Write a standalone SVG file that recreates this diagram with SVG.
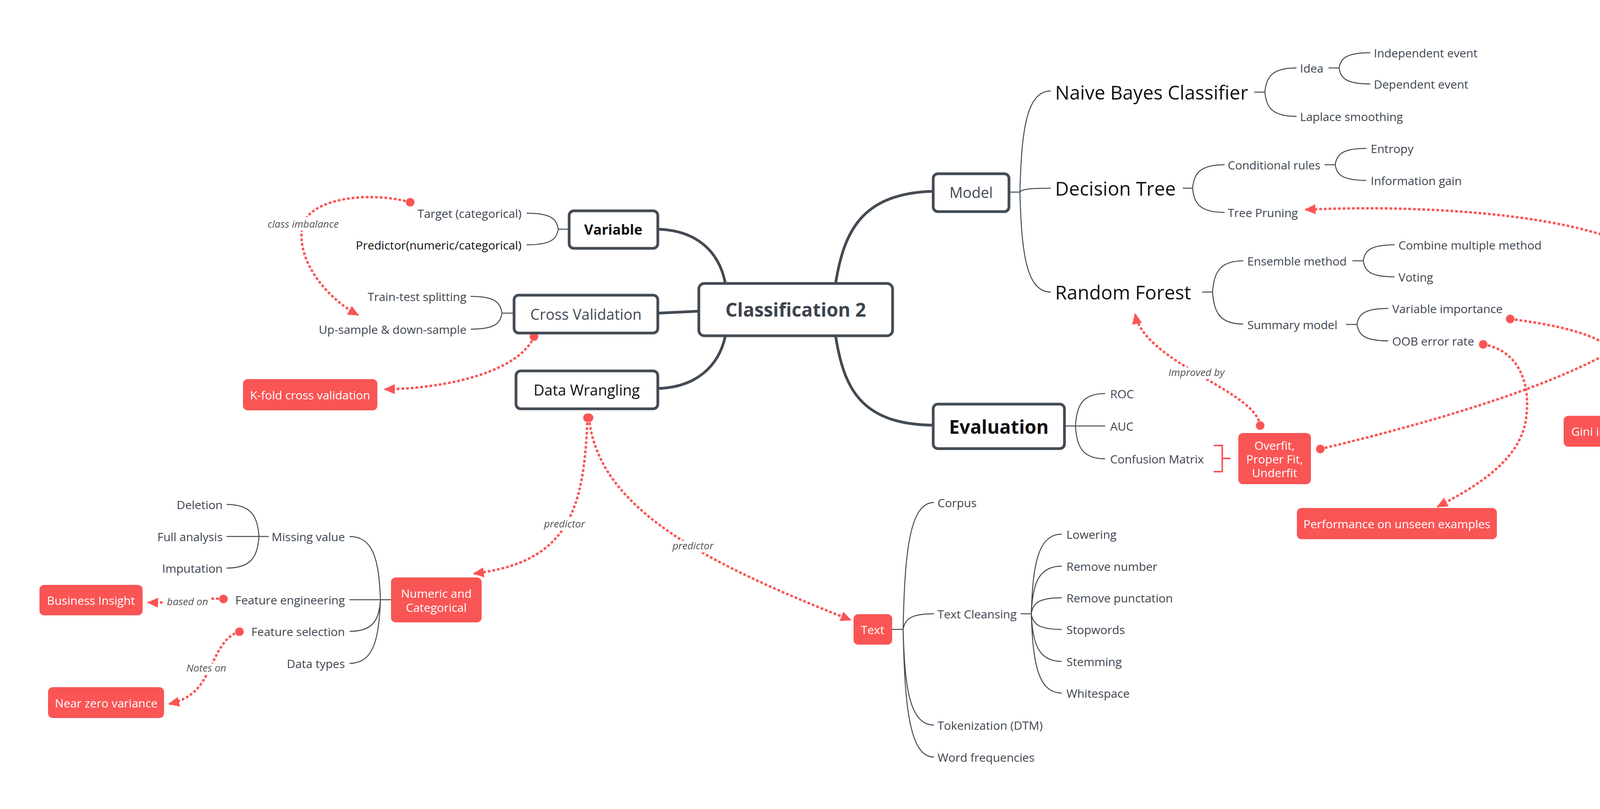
<svg xmlns="http://www.w3.org/2000/svg" width="4444" height="2072" viewBox="0 0 4444 2072">
<style>
.t{font-family:"Open Sans","Liberation Sans",sans-serif;dominant-baseline:central}
.leaf{font-size:30px;fill:#3E4550}
.big{font-size:49px;fill:#111}
.main{font-size:38px;font-weight:500;text-anchor:middle}
.rl{font-family:"Open Sans","Liberation Sans",sans-serif;dominant-baseline:central;font-size:26px;font-style:italic;fill:#555;paint-order:stroke;stroke:#fff;stroke-width:16px;text-anchor:middle}
.w{fill:#fff;font-size:30px;text-anchor:middle}
.box{fill:#fff;stroke:#434B54;stroke-width:7}
.red{fill:#F95555}
.thin{fill:none;stroke:#434B54;stroke-width:2.5}
.thick{fill:none;stroke:#434B54;stroke-width:7;stroke-linecap:round}
.rel{fill:none;stroke:#F95555;stroke-width:6;stroke-dasharray:7 5;marker-start:url(#dot);marker-end:url(#arr)}
.e{text-anchor:end}
</style>
<defs>
<marker id="dot" viewBox="0 0 24 24" refX="12" refY="12" markerWidth="24" markerHeight="24" markerUnits="userSpaceOnUse"><circle cx="12" cy="12" r="11" fill="#F95555"/></marker>
<marker id="arr" viewBox="0 0 24 24" refX="22" refY="12" markerWidth="28" markerHeight="28" markerUnits="userSpaceOnUse" orient="auto"><path d="M0,1 L24,12 L0,23 z" fill="#F95555"/></marker>
</defs>
<rect width="4444" height="2072" fill="#fff"/>

<g id="connectors">
<!-- main thick -->
<path class="thick" d="M1684,587 C1780,590 1840,640 1857,726"/>
<path class="thick" d="M1684,802 L1789,797"/>
<path class="thick" d="M1684,995 C1780,992 1840,940 1857,860"/>
<path class="thick" d="M2139,726 C2160,600 2200,495 2389,490"/>
<path class="thick" d="M2139,860 C2160,990 2200,1087 2389,1089"/>
<!-- thin tree lines -->
<path class="thin" d="M2584,492 H2611 M3211,236 H3238 M3401,174 H3428 M3028,482 H3053 M3391,422 H3418 M3078,748 H3104 M3462,668 H3490 M3446,831 H3474 M2726,1091 H2753 M2284,1612 H2312 M2613,1572 H2640 M1456,587 H1429 M1315,802 H1285 M1001,1536 H974 M688,1374 H663"/>
<path class="thin" d="M2611,492 C2615,337 2627,233 2690,233 M2611,492 C2615,486 2627,482 2690,482 M2611,492 C2615,646 2627,748 2690,748"/>
<path class="thin" d="M3238,236 C3242,199 3254,174 3319,174 M3238,236 C3242,273 3254,298 3319,298"/>
<path class="thin" d="M3428,174 C3432,151 3444,135 3508,135 M3428,174 C3432,199 3444,215 3508,215"/>
<path class="thin" d="M3053,482 C3057,446 3069,422 3135,422 M3053,482 C3057,519 3069,544 3135,544"/>
<path class="thin" d="M3418,422 C3422,397 3434,380 3498,380 M3418,422 C3422,446 3434,462 3498,462"/>
<path class="thin" d="M3104,748 C3108,700 3120,668 3183,668 M3104,748 C3108,797 3120,830 3183,830"/>
<path class="thin" d="M3490,668 C3494,643 3506,627 3570,627 M3490,668 C3494,693 3506,709 3570,709"/>
<path class="thin" d="M3474,831 C3478,806 3490,790 3554,790 M3474,831 C3478,856 3490,873 3554,873"/>
<path class="thin" d="M2753,1091 C2757,1041 2768,1008 2829,1008 M2753,1091 H2829 M2753,1091 C2757,1141 2768,1175 2829,1175"/>
<path class="thin" d="M2312,1612 C2316,1417 2328,1287 2391,1287 M2312,1612 C2316,1588 2328,1572 2391,1572 M2312,1612 C2316,1759 2328,1857 2391,1857 M2312,1612 C2316,1808 2328,1939 2391,1939"/>
<path class="thin" d="M2640,1572 C2644,1450 2656,1368 2718,1368 M2640,1572 C2644,1499 2656,1450 2718,1450 M2640,1572 C2644,1547 2656,1531 2718,1531 M2640,1572 C2644,1596 2656,1612 2718,1612 M2640,1572 C2644,1645 2656,1694 2718,1694 M2640,1572 C2644,1694 2656,1775 2718,1775"/>
<path class="thin" d="M1429,587 C1425,562 1413,546 1348,546 M1429,587 C1425,611 1413,627 1348,627"/>
<path class="thin" d="M1285,802 C1281,776 1269,759 1205,759 M1285,802 C1281,827 1269,843 1205,843"/>
<path class="thin" d="M974,1536 C970,1439 958,1374 895,1374 M974,1536 H895 M974,1536 C970,1585 958,1617 895,1617 M974,1536 C970,1634 958,1699 895,1699"/>
<path class="thin" d="M663,1374 C659,1325 646,1292 580,1292 M663,1374 H580 M663,1374 C659,1423 646,1455 580,1455"/>
<!-- summary bracket -->
<path d="M3107,1141 H3129 V1208 H3107 M3129,1174 H3150" fill="none" stroke="#F95555" stroke-width="4"/>
<!-- relationships -->
<path class="rel" d="M1050,518 C950,490 800,505 775,575 C755,660 830,760 917,807"/>
<path class="rel" d="M1367,862 C1330,950 1150,995 985,997"/>
<path class="rel" d="M1504,1070 C1495,1300 1460,1440 1213,1469"/>
<path class="rel" d="M1508,1070 C1530,1300 1800,1440 2178,1588"/>
<path class="rel" d="M572,1534 C520,1530 450,1545 379,1543"/>
<path class="rel" d="M613,1618 C570,1630 555,1680 535,1715 C515,1760 490,1790 433,1803"/>
<path class="rel" d="M3226,1090 C3215,1000 2930,930 2906,804"/>
<path class="rel" d="M3380,1150 C3800,1050 4270,900 4270,740 C4270,560 3700,520 3342,537"/>
<path class="rel" d="M3866,817 C4050,840 4165,880 4155,960 C4150,1000 4145,1030 4139,1055"/>
<path class="rel" d="M3797,882 C3900,900 3915,1000 3908,1060 C3900,1180 3770,1250 3680,1298"/>
<text class="rl" x="776" y="573">class imbalance</text>
<text class="rl" x="1445" y="1341">predictor</text>
<text class="rl" x="1774" y="1397">predictor</text>
<text class="rl" x="480" y="1540">based on</text>
<text class="rl" x="528" y="1710">Notes on</text>
<text class="rl" x="3063" y="953">Improved by</text>
<text class="rl" x="4269" y="748">Improved by</text>
</g>

<g id="root"><rect class="box" x="1789" y="726" width="496" height="134" rx="14"/><text class="t" x="2037" y="792" font-size="48" font-weight="700" fill="#3D444D" text-anchor="middle">Classification 2</text></g>
<g id="variable"><rect class="box" x="1457" y="540" width="227" height="96" rx="12"/><text class="t" x="1570" y="587" font-size="36" font-weight="700" fill="#111" text-anchor="middle">Variable</text></g>
<g id="crossval"><rect class="box" x="1316" y="756" width="368" height="97" rx="12"/><text class="t main" x="1500" y="804" fill="#434B54">Cross Validation</text></g>
<g id="wrangling"><rect class="box" x="1321" y="950" width="363" height="97" rx="12"/><text class="t main" x="1502" y="998" fill="#111">Data Wrangling</text></g>
<g id="model"><rect class="box" x="2389" y="445" width="194" height="97" rx="12"/><text class="t main" x="2486" y="492" fill="#434B54">Model</text></g>
<g id="evaluation"><rect class="box" x="2389" y="1035" width="336" height="114" rx="12"/><text class="t" x="2557" y="1092" font-size="48" font-weight="700" fill="#111" text-anchor="middle">Evaluation</text></g>

<g id="nb"><text class="t big" x="2701" y="236">Naive Bayes Classifier</text></g>
<g id="dt"><text class="t big" x="2701" y="482">Decision Tree</text></g>
<g id="rf"><text class="t big" x="2701" y="748">Random Forest</text></g>
<g id="idea"><text class="t leaf" x="3328" y="174">Idea</text></g>
<g id="indep"><text class="t leaf" x="3517" y="135">Independent event</text></g>
<g id="dep"><text class="t leaf" x="3517" y="215">Dependent event</text></g>
<g id="laplace"><text class="t leaf" x="3328" y="298">Laplace smoothing</text></g>
<g id="cond"><text class="t leaf" x="3143" y="422">Conditional rules</text></g>
<g id="entropy"><text class="t leaf" x="3509" y="380">Entropy</text></g>
<g id="infogain"><text class="t leaf" x="3509" y="462">Information gain</text></g>
<g id="pruning"><text class="t leaf" x="3143" y="544">Tree Pruning</text></g>
<g id="ensemble"><text class="t leaf" x="3193" y="668">Ensemble method</text></g>
<g id="combine"><text class="t leaf" x="3580" y="627">Combine multiple method</text></g>
<g id="voting"><text class="t leaf" x="3580" y="709">Voting</text></g>
<g id="summary"><text class="t leaf" x="3193" y="831">Summary model</text></g>
<g id="varimp"><text class="t leaf" x="3564" y="790">Variable importance</text></g>
<g id="oob"><text class="t leaf" x="3564" y="873">OOB error rate</text></g>
<g id="roc"><text class="t leaf" x="2842" y="1008">ROC</text></g>
<g id="auc"><text class="t leaf" x="2842" y="1091">AUC</text></g>
<g id="confusion"><text class="t leaf" x="2842" y="1175">Confusion Matrix</text></g>
<g id="overfit"><rect class="red" x="3170" y="1109" width="186" height="131" rx="12"/><text class="t w" x="3263" y="1140">Overfit,</text><text class="t w" x="3263" y="1175">Proper Fit,</text><text class="t w" x="3263" y="1210">Underfit</text></g>
<g id="gini"><rect class="red" x="4003" y="1065" width="221" height="79" rx="12"/><text class="t w" x="4113" y="1104">Gini impurity</text></g>
<g id="perf"><rect class="red" x="3320" y="1301" width="512" height="80" rx="12"/><text class="t w" x="3576" y="1341">Performance on unseen examples</text></g>

<g id="target"><text class="t leaf e" x="1335" y="546">Target (categorical)</text></g>
<g id="predictor"><text class="t leaf e" x="1335" y="627" style="fill:#111">Predictor(numeric/categorical)</text></g>
<g id="traintest"><text class="t leaf e" x="1194" y="759">Train-test splitting</text></g>
<g id="upsample"><text class="t leaf e" x="1194" y="843">Up-sample &amp; down-sample</text></g>
<g id="kfold"><rect class="red" x="622" y="971" width="344" height="80" rx="12"/><text class="t w" x="794" y="1011">K-fold cross validation</text></g>

<g id="numeric"><rect class="red" x="1001" y="1479" width="232" height="115" rx="12"/><text class="t w" x="1117" y="1519">Numeric and</text><text class="t w" x="1117" y="1555">Categorical</text></g>
<g id="missing"><text class="t leaf e" x="883" y="1374">Missing value</text></g>
<g id="deletion"><text class="t leaf e" x="570" y="1292">Deletion</text></g>
<g id="fullanalysis"><text class="t leaf e" x="570" y="1374">Full analysis</text></g>
<g id="imputation"><text class="t leaf e" x="570" y="1455">Imputation</text></g>
<g id="feateng"><text class="t leaf e" x="883" y="1536">Feature engineering</text></g>
<g id="featsel"><text class="t leaf e" x="883" y="1617">Feature selection</text></g>
<g id="datatypes"><text class="t leaf e" x="883" y="1699">Data types</text></g>
<g id="business"><rect class="red" x="101" y="1498" width="264" height="78" rx="12"/><text class="t w" x="233" y="1537">Business Insight</text></g>
<g id="nearzero"><rect class="red" x="123" y="1760" width="297" height="79" rx="12"/><text class="t w" x="272" y="1800">Near zero variance</text></g>

<g id="text"><rect class="red" x="2185" y="1573" width="99" height="78" rx="12"/><text class="t w" x="2234" y="1612">Text</text></g>
<g id="corpus"><text class="t leaf" x="2400" y="1287">Corpus</text></g>
<g id="cleansing"><text class="t leaf" x="2400" y="1572">Text Cleansing</text></g>
<g id="tokenization"><text class="t leaf" x="2400" y="1857">Tokenization (DTM)</text></g>
<g id="wordfreq"><text class="t leaf" x="2400" y="1939">Word frequencies</text></g>
<g id="lowering"><text class="t leaf" x="2730" y="1368">Lowering</text></g>
<g id="removenum"><text class="t leaf" x="2730" y="1450">Remove number</text></g>
<g id="removepunct"><text class="t leaf" x="2730" y="1531">Remove punctation</text></g>
<g id="stopwords"><text class="t leaf" x="2730" y="1612">Stopwords</text></g>
<g id="stemming"><text class="t leaf" x="2730" y="1694">Stemming</text></g>
<g id="whitespace"><text class="t leaf" x="2730" y="1775">Whitespace</text></g>
</svg>
